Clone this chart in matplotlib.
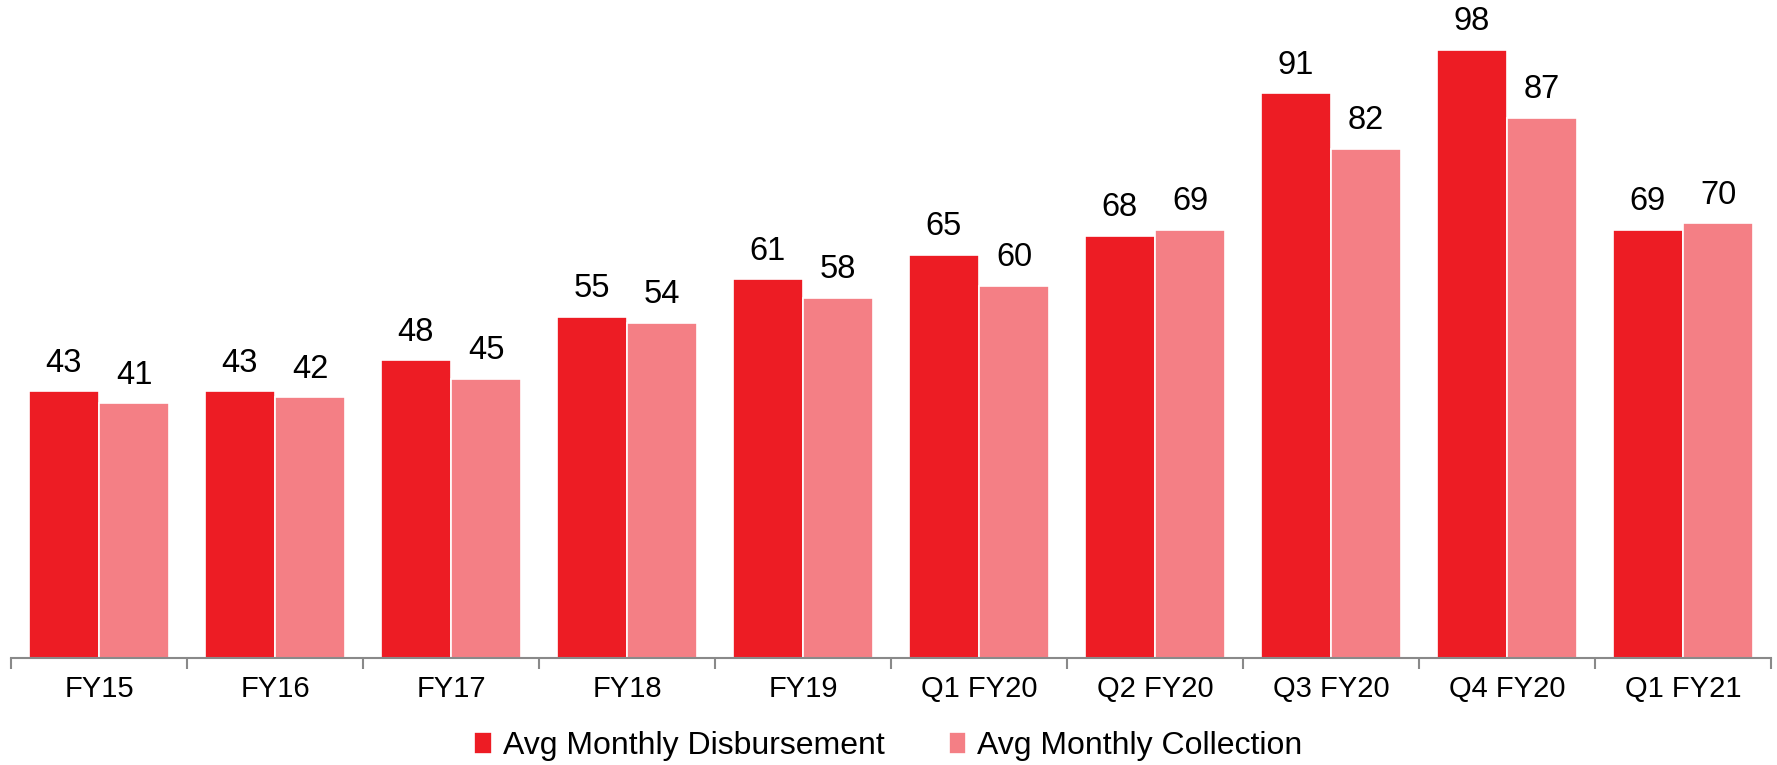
import matplotlib
matplotlib.use("Agg")
import matplotlib.pyplot as plt
import numpy as np

categories = ["FY15", "FY16", "FY17", "FY18", "FY19", "Q1 FY20", "Q2 FY20", "Q3 FY20", "Q4 FY20", "Q1 FY21"]
disbursement = [43, 43, 48, 55, 61, 65, 68, 91, 98, 69]
collection = [41, 42, 45, 54, 58, 60, 69, 82, 87, 70]

plt.rcParams['font.family'] = ['Liberation Sans', 'DejaVu Sans']

fig = plt.figure(figsize=(17.77, 7.65), dpi=100)
ax = fig.add_axes([0.0062, 0.1399, 0.9904, 0.8601])

x = np.arange(len(categories))
w = 0.4
red = "#ED1C24"
pink = "#F47F85"
b1 = ax.bar(x - 0.2, disbursement, w, color=red, edgecolor="white", linewidth=1.2, label="Avg Monthly Disbursement")
b2 = ax.bar(x + 0.2, collection, w, color=pink, edgecolor="white", linewidth=1.2, label="Avg Monthly Collection")

for bars, vals in ((b1, disbursement), (b2, collection)):
    for r, v in zip(bars, vals):
        ax.annotate(str(v), (r.get_x() + r.get_width() / 2, r.get_height()),
                    xytext=(0, 9), textcoords="offset points",
                    ha="center", va="bottom", fontsize=23.5, color="black")

ax.set_xlim(-0.5, len(categories) - 0.5)
ax.set_ylim(0, 106)
ax.set_xticks(x)
ax.set_xticklabels(categories, fontsize=21)
ax.tick_params(axis="x", which="major", length=0, pad=12)
ax.set_xticks(np.arange(len(categories) + 1) - 0.5, minor=True)
ax.tick_params(axis="x", which="minor", length=8, width=1.5, color="#898989")
ax.set_yticks([])
for s in ("top", "right", "left"):
    ax.spines[s].set_visible(False)
ax.spines["bottom"].set_color("#898989")
ax.spines["bottom"].set_linewidth(1.5)

fig.legend(handles=[b1, b2], loc="center", bbox_to_anchor=(0.5, 0.025), ncol=2,
           frameon=False, fontsize=23, handlelength=0.55, handleheight=0.7,
           handletextpad=0.35, columnspacing=2.0)

fig.savefig("out.png", dpi=100)
